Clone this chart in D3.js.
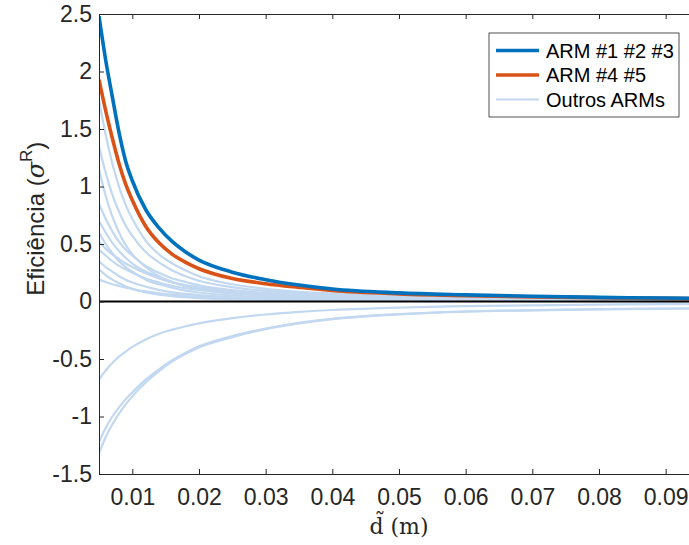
<!DOCTYPE html>
<html lang="pt">
  <head>
    <meta charset="UTF-8" />
    <title>Eficiência dos ARMs</title>
    <script src="https://d3js.org/d3.v7.min.js"></script>
    <style>
      body { margin: 0; background: #fff; }
      svg { display: block; }
    </style>
  </head>
  <body>
    <script>
      // distances (m) where the curves were read
      const dist = [0.005, 0.006, 0.007, 0.008, 0.009, 0.010, 0.012, 0.014, 0.016, 0.018, 0.020,
                    0.025, 0.030, 0.035, 0.040, 0.050, 0.060, 0.070, 0.080, 0.090, 0.0935];

      // ARM #1 #2 #3
      const arm123 = [2.48, 2.1, 1.78, 1.47, 1.22, 1.05, 0.8, 0.64, 0.52, 0.43, 0.36,
                      0.255, 0.19, 0.143, 0.108, 0.075, 0.058, 0.045, 0.036, 0.03, 0.028];
      // ARM #4 #5
      const arm45 = [1.93, 1.66, 1.42, 1.2, 1.02, 0.88, 0.655, 0.51, 0.41, 0.34, 0.285,
                     0.2, 0.155, 0.123, 0.095, 0.066, 0.05, 0.04, 0.033, 0.027, 0.025];

      // Outros ARMs
      const outros = [
        [1.75, 1.45, 1.2, 1.0, 0.84, 0.72, 0.53, 0.41, 0.33, 0.27, 0.22, 0.15, 0.11, 0.085, 0.07, 0.05, 0.038, 0.03, 0.025, 0.021, 0.02],
        [1.35, 1.12, 0.93, 0.78, 0.66, 0.57, 0.43, 0.34, 0.27, 0.22, 0.18, 0.125, 0.092, 0.072, 0.058, 0.042, 0.032, 0.026, 0.021, 0.018, 0.017],
        [1.15, 0.92, 0.74, 0.6, 0.49, 0.41, 0.3, 0.22, 0.17, 0.13, 0.105, 0.07, 0.05, 0.038, 0.03, 0.021, 0.016, 0.013, 0.011, 0.009, 0.009],
        [0.85, 0.72, 0.61, 0.52, 0.45, 0.4, 0.31, 0.25, 0.2, 0.17, 0.14, 0.1, 0.075, 0.058, 0.047, 0.033, 0.025, 0.02, 0.016, 0.014, 0.013],
        [0.7, 0.6, 0.51, 0.44, 0.38, 0.33, 0.26, 0.21, 0.17, 0.14, 0.12, 0.085, 0.064, 0.05, 0.04, 0.029, 0.022, 0.017, 0.014, 0.012, 0.011],
        [0.6, 0.5, 0.42, 0.35, 0.3, 0.26, 0.19, 0.15, 0.12, 0.095, 0.078, 0.052, 0.038, 0.029, 0.023, 0.016, 0.012, 0.01, 0.008, 0.007, 0.007],
        [0.52, 0.46, 0.41, 0.37, 0.33, 0.3, 0.245, 0.2, 0.165, 0.14, 0.12, 0.085, 0.063, 0.049, 0.04, 0.028, 0.021, 0.017, 0.014, 0.012, 0.011],
        [0.45, 0.4, 0.35, 0.31, 0.28, 0.25, 0.2, 0.165, 0.135, 0.115, 0.1, 0.07, 0.053, 0.042, 0.034, 0.024, 0.018, 0.014, 0.012, 0.01, 0.009],
        [0.35, 0.3, 0.26, 0.22, 0.19, 0.165, 0.13, 0.1, 0.08, 0.066, 0.055, 0.037, 0.027, 0.021, 0.017, 0.012, 0.009, 0.007, 0.006, 0.005, 0.005],
        [0.28, 0.23, 0.19, 0.16, 0.13, 0.11, 0.08, 0.06, 0.046, 0.037, 0.03, 0.02, 0.014, 0.011, 0.009, 0.006, 0.005, 0.004, 0.003, 0.003, 0.003],
        [0.19, 0.17, 0.15, 0.135, 0.12, 0.108, 0.088, 0.072, 0.06, 0.05, 0.043, 0.03, 0.022, 0.017, 0.014, 0.01, 0.008, 0.006, 0.005, 0.004, 0.004],
        [-0.68, -0.6, -0.535, -0.48, -0.435, -0.395, -0.33, -0.28, -0.245, -0.215, -0.19, -0.145, -0.113, -0.09, -0.074, -0.053, -0.041, -0.033, -0.027, -0.023, -0.022],
        [-1.22, -1.1, -1.0, -0.92, -0.85, -0.79, -0.68, -0.59, -0.51, -0.445, -0.39, -0.3, -0.235, -0.185, -0.15, -0.11, -0.087, -0.075, -0.067, -0.062, -0.06],
        [-1.32, -1.18, -1.07, -0.975, -0.895, -0.825, -0.705, -0.605, -0.52, -0.455, -0.4, -0.31, -0.24, -0.19, -0.153, -0.112, -0.088, -0.077, -0.069, -0.063, -0.061]
      ];

      const xTicks = [0.01, 0.02, 0.03, 0.04, 0.05, 0.06, 0.07, 0.08, 0.09];
      const yTicks = [-1.5, -1, -0.5, 0, 0.5, 1, 1.5, 2, 2.5];
      const legendLabels = ["ARM #1 #2 #3", "ARM #4 #5", "Outros ARMs"];

      const W = 689, H = 545;
      const margin = { top: 14, right: 0, bottom: 71, left: 99 };
      const width = W - margin.left - margin.right;
      const height = H - margin.top - margin.bottom;

      const svg = d3.select("body").append("svg").attr("width", W).attr("height", H);
      const g = svg.append("g").attr("transform", `translate(${margin.left},${margin.top})`);

      const x = d3.scaleLinear().domain([0.005, 0.0935]).range([0, width]);
      const y = d3.scaleLinear().domain([-1.5, 2.5]).range([height, 0]);

      const colBlue = "#0072bd", colOrange = "#d95319", colLight = "#c2d8f0";

      g.append("clipPath").attr("id", "clip")
        .append("rect").attr("width", width).attr("height", height);

      const line = d3.line()
        .x((d, i) => x(dist[i]))
        .y((d) => y(d))
        .curve(d3.curveMonotoneX);

      const plot = g.append("g").attr("clip-path", "url(#clip)");

      plot.selectAll(".outro")
        .data(outros)
        .enter()
        .append("path")
        .attr("class", "outro")
        .attr("d", line)
        .attr("fill", "none")
        .attr("stroke", colLight)
        .attr("stroke-width", 2.2);

      plot.append("path").attr("d", line(arm45))
        .attr("fill", "none").attr("stroke", colOrange).attr("stroke-width", 3.6);
      plot.append("path").attr("d", line(arm123))
        .attr("fill", "none").attr("stroke", colBlue).attr("stroke-width", 3.6);

      // zero line
      g.append("line")
        .attr("x1", 0).attr("x2", width)
        .attr("y1", y(0)).attr("y2", y(0))
        .attr("stroke", "#000").attr("stroke-width", 2);

      // axes (ticks pointing inward, like matlab)
      const xAxis = g.append("g").attr("transform", `translate(0,${height})`)
        .call(d3.axisBottom(x).tickValues(xTicks).tickSizeInner(-5).tickSizeOuter(0).tickPadding(15).tickFormat(d3.format(".2f")));
      const xTop = g.append("g")
        .call(d3.axisTop(x).tickValues(xTicks).tickSizeInner(-5).tickSizeOuter(0).tickFormat(""));
      const yAxis = g.append("g")
        .call(d3.axisLeft(y).tickValues(yTicks).tickSizeInner(-5).tickSizeOuter(0).tickPadding(7).tickFormat((d) => String(d)));

      [xAxis, xTop, yAxis].forEach((a) => {
        a.select(".domain").attr("stroke", "#262626").attr("stroke-width", 1);
        a.selectAll(".tick line").attr("stroke", "#262626");
        a.selectAll(".tick text")
          .style("font-family", "'Liberation Sans', Arial, sans-serif")
          .style("font-size", "23px")
          .style("fill", "#262626");
      });

      // axis labels
      svg.append("text")
        .attr("x", margin.left + x(0.05))
        .attr("y", 534)
        .attr("text-anchor", "middle")
        .style("font-family", "'DejaVu Serif', 'Liberation Serif', serif")
        .style("font-size", "22px")
        .style("fill", "#262626")
        .text("d\u0303 (m)");

      const yl = svg.append("text")
        .attr("transform", `translate(44,${margin.top + y(0.72)}) rotate(-90)`)
        .attr("text-anchor", "middle")
        .style("font-family", "'Liberation Sans', Arial, sans-serif")
        .style("font-size", "24px")
        .style("fill", "#262626");
      yl.append("tspan").text("Eficiência (");
      yl.append("tspan").style("font-family", "'DejaVu Serif', serif").style("font-style", "italic").text("σ");
      yl.append("tspan").attr("dy", -12).style("font-size", "17px").text("R");
      yl.append("tspan").attr("dy", 12).text(")");

      // legend
      const lg = svg.append("g").attr("transform", "translate(489,33)");
      lg.append("rect")
        .attr("width", 190).attr("height", 84)
        .attr("fill", "#fff").attr("stroke", "#262626").attr("stroke-width", 0.8);
      const legendColors = [colBlue, colOrange, colLight];
      const legendWidths = [3.6, 3.6, 2.2];
      const items = lg.selectAll(".item")
        .data(legendLabels)
        .enter()
        .append("g")
        .attr("transform", (d, i) => `translate(0,${17.5 + i * 24.5})`);
      items.append("line")
        .attr("x1", 7).attr("x2", 50)
        .attr("stroke", (d, i) => legendColors[i])
        .attr("stroke-width", (d, i) => legendWidths[i]);
      items.append("text")
        .attr("x", 57).attr("dy", "0.35em")
        .style("font-family", "'Liberation Sans', Arial, sans-serif")
        .style("font-size", "20px")
        .style("fill", "#000")
        .text((d) => d);
    </script>
  </body>
</html>
